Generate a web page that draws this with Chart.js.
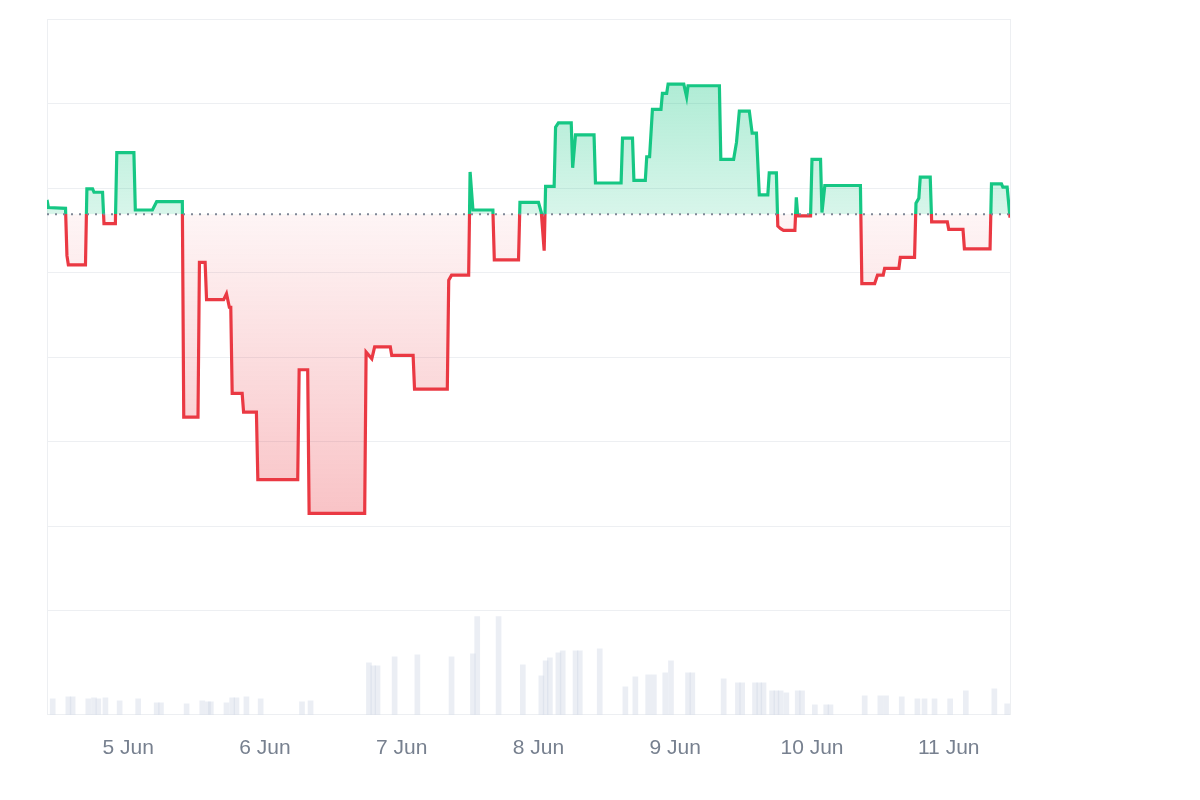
<!DOCTYPE html>
<html>
<head>
<meta charset="utf-8">
<script src="https://cdn.jsdelivr.net/npm/chart.js@4.4.1/dist/chart.umd.min.js"></script>
<style>
    html, body { margin: 0; padding: 0; background: #fff; }
    #wrap { width: 1200px; height: 800px; }
</style>
</head>
<body>
<div id="wrap"><canvas id="chart" width="1200" height="800"></canvas></div>
<script>
// time in hours counted from 4 Jun 00:00
const hours = [
    9.75, 10.0, 13.0, 13.25, 13.5, 16.5, 16.75, 17.75, 18.0, 19.5,
    19.75, 21.75, 22.0, 25.0, 25.25, 28.25, 29.0, 33.5, 33.75, 36.25,
    36.5, 37.5, 37.75, 40.75, 41.25, 41.75, 42.0, 42.25, 44.0, 44.25,
    46.5, 46.75, 53.75, 54.0, 55.5, 55.75, 65.5, 65.75, 66.75, 67.25,
    70.0, 70.25, 74.0, 74.25, 80.0, 80.25, 80.75, 83.75, 84.0, 84.5,
    88.0, 88.25, 92.5, 92.75, 96.0, 96.5, 97.0, 97.25, 98.75, 99.0,
    99.5, 101.75, 102.0, 102.5, 105.75, 106.0, 110.5, 110.75, 112.5, 112.75,
    114.75, 115.0, 115.5, 116.0, 117.5, 117.75, 118.5, 118.75, 121.5, 122.0,
    122.25, 127.75, 128.0, 130.25, 130.75, 131.25, 133.0, 133.5, 134.25, 134.75,
    136.25, 136.5, 137.75, 138.0, 138.5, 139.0, 141.0, 141.25, 141.5, 143.75,
    144.0, 145.5, 145.75, 146.25, 152.5, 152.75, 155.0, 155.5, 156.5, 156.75,
    159.25, 159.5, 162.0, 162.25, 162.75, 163.0, 164.75, 165.0, 167.75, 168.0,
    170.5, 170.75, 175.25, 175.5, 177.25, 177.5, 178.25, 178.75
];
const values = [
    48.6, 47.7, 47.6, 42.0, 40.9, 40.9, 49.9, 49.9, 49.5, 49.5,
    45.8, 45.8, 54.2, 54.2, 47.4, 47.4, 48.4, 48.4, 22.9, 22.9,
    41.2, 41.2, 36.8, 36.8, 37.5, 35.9, 35.9, 25.7, 25.7, 23.5,
    23.5, 15.5, 15.5, 28.5, 28.5, 11.5, 11.5, 30.6, 29.8, 31.2,
    31.2, 30.2, 30.2, 26.2, 26.2, 39.1, 39.7, 39.7, 51.9, 47.4,
    47.4, 41.5, 41.5, 48.3, 48.3, 47.1, 42.6, 50.2, 50.2, 57.2,
    57.7, 57.7, 52.4, 56.3, 56.3, 50.6, 50.6, 55.9, 55.9, 50.9,
    50.9, 53.7, 53.7, 59.3, 59.3, 61.2, 61.2, 62.3, 62.3, 60.8,
    62.1, 62.1, 53.4, 53.4, 55.4, 59.1, 59.1, 56.5, 56.5, 49.2,
    49.2, 51.8, 51.8, 45.5, 45.2, 45.0, 45.0, 48.9, 46.7, 46.7,
    53.4, 53.4, 47.1, 50.3, 50.3, 38.7, 38.7, 39.7, 39.7, 40.5,
    40.5, 41.8, 41.8, 48.2, 48.8, 51.3, 51.3, 46.0, 46.0, 45.1,
    45.1, 42.8, 42.8, 50.5, 50.5, 50.1, 50.1, 46.5
];
const baseline = 46.9;

const volHours = [
    10.75, 13.5, 14.25, 17.0, 18.0, 18.75, 20.0, 22.5, 25.75, 29.0,
    29.75, 34.25, 37.0, 38.0, 38.5, 41.25, 42.25, 43.0, 44.75, 47.25,
    54.5, 56.0, 66.25, 67.0, 67.75, 70.75, 74.75, 80.75, 84.5, 85.25,
    89.0, 93.25, 96.5, 97.25, 98.0, 99.5, 100.25, 102.5, 103.25, 106.75,
    111.25, 113.0, 115.25, 116.25, 118.25, 119.25, 122.25, 123.0, 128.5, 131.0,
    131.75, 134.0, 134.75, 135.5, 137.0, 137.75, 138.5, 139.5, 141.5, 142.25,
    144.5, 146.5, 147.25, 153.25, 156.0, 157.0, 159.75, 162.5, 163.75, 165.5,
    168.25, 171.0, 176.0, 178.25
];
const volumes = [
    160, 180, 180, 160, 170, 160, 170, 140, 160, 120,
    120, 110, 140, 130, 130, 120, 170, 170, 180, 160,
    130, 140, 520, 490, 490, 580, 600, 580, 610, 980,
    980, 500, 390, 540, 570, 620, 640, 640, 640, 660,
    280, 380, 400, 400, 420, 540, 420, 420, 360, 320,
    320, 320, 320, 320, 240, 240, 240, 220, 240, 240,
    100, 100, 100, 190, 190, 190, 180, 160, 160, 160,
    160, 240, 260, 110
];

const dayTicks = [24, 48, 72, 96, 120, 144, 168];
const dayLabels = ["5 Jun", "6 Jun", "7 Jun", "8 Jun", "9 Jun", "10 Jun", "11 Jun"];
const gridValues = [0, 10, 20, 30, 40, 50, 60, 70];

const UP = "#16c784";
const DOWN = "#ea3943";
const GRID = "#edeff2";

// line colour switches exactly at the baseline
function splitColor(ctx) {
    const chart = ctx.chart;
    const area = chart.chartArea;
    if (!area) return UP;
    const y0 = chart.scales.y.getPixelForValue(baseline);
    const f = Math.min(Math.max((y0 - area.top) / (area.bottom - area.top), 0), 1);
    const g = chart.ctx.createLinearGradient(0, area.top, 0, area.bottom);
    g.addColorStop(0, UP);
    g.addColorStop(f, UP);
    g.addColorStop(f, DOWN);
    g.addColorStop(1, DOWN);
    return g;
}

function areaFill(ctx) {
    const chart = ctx.chart;
    if (!chart.chartArea) {
        return { target: { value: baseline }, above: "rgba(22,199,132,0.25)", below: "rgba(234,57,67,0.1)" };
    }
    const y = chart.scales.y;
    const top = y.getPixelForValue(Math.max(...values));
    const mid = y.getPixelForValue(baseline);
    const bot = y.getPixelForValue(Math.min(...values));
    const up = chart.ctx.createLinearGradient(0, top, 0, mid);
    up.addColorStop(0, "rgba(22,199,132,0.34)");
    up.addColorStop(1, "rgba(22,199,132,0.17)");
    const down = chart.ctx.createLinearGradient(0, mid, 0, bot);
    down.addColorStop(0, "rgba(234,57,67,0.05)");
    down.addColorStop(1, "rgba(234,57,67,0.30)");
    return { target: { value: baseline }, above: up, below: down };
}

const linePoints = hours.map((h, i) => ({ x: h, y: values[i] }));
const volPoints = volHours.map((h, i) => ({ x: h, y: volumes[i] }));
const basePoints = [
    { x: hours[0], y: baseline },
    { x: hours[hours.length - 1], y: baseline }
];

new Chart(document.getElementById("chart"), {
    type: "line",
    data: {
        datasets: [
            {
                data: basePoints,
                borderColor: "#7f8796",
                borderWidth: 2,
                borderDash: [2, 6],
                pointRadius: 0,
                fill: false,
                order: 0
            },
            {
                data: linePoints,
                borderColor: splitColor,
                borderWidth: 3.2,
                pointRadius: 0,
                tension: 0,
                fill: areaFill,
                order: 1
            },
            {
                type: "bar",
                data: volPoints,
                yAxisID: "yv",
                backgroundColor: "rgba(207,214,228,0.42)",
                barThickness: 5,
                order: 2
            }
        ]
    },
    options: {
        responsive: false,
        animation: false,
        layout: { padding: { left: 47, right: 190, top: 19, bottom: 18 } },
        plugins: {
            legend: { display: false },
            tooltip: { enabled: false }
        },
        scales: {
            x: {
                type: "linear",
                offset: false,
                min: hours[0],
                max: hours[hours.length - 1],
                grid: { display: false, drawTicks: false, offset: false },
                border: { display: true, color: GRID, width: 1 },
                afterBuildTicks: scale => { scale.ticks = dayTicks.map(v => ({ value: v })); },
                ticks: {
                    autoSkip: false,
                    maxRotation: 0,
                    padding: 21,
                    color: "#77808f",
                    font: { family: "'Liberation Sans', Arial, sans-serif", size: 21 },
                    callback: value => dayLabels[dayTicks.indexOf(value)]
                }
            },
            y: {
                position: "left",
                min: -12.32,
                max: 70,
                afterBuildTicks: scale => { scale.ticks = gridValues.map(v => ({ value: v })); },
                grid: { color: GRID, drawTicks: false },
                border: { display: true, color: GRID },
                ticks: { display: false }
            },
            yv: {
                position: "right",
                min: 0,
                max: 6950,
                grid: { display: false, drawTicks: false },
                border: { display: true, color: GRID },
                ticks: { display: false }
            }
        }
    }
});
</script>
</body>
</html>
